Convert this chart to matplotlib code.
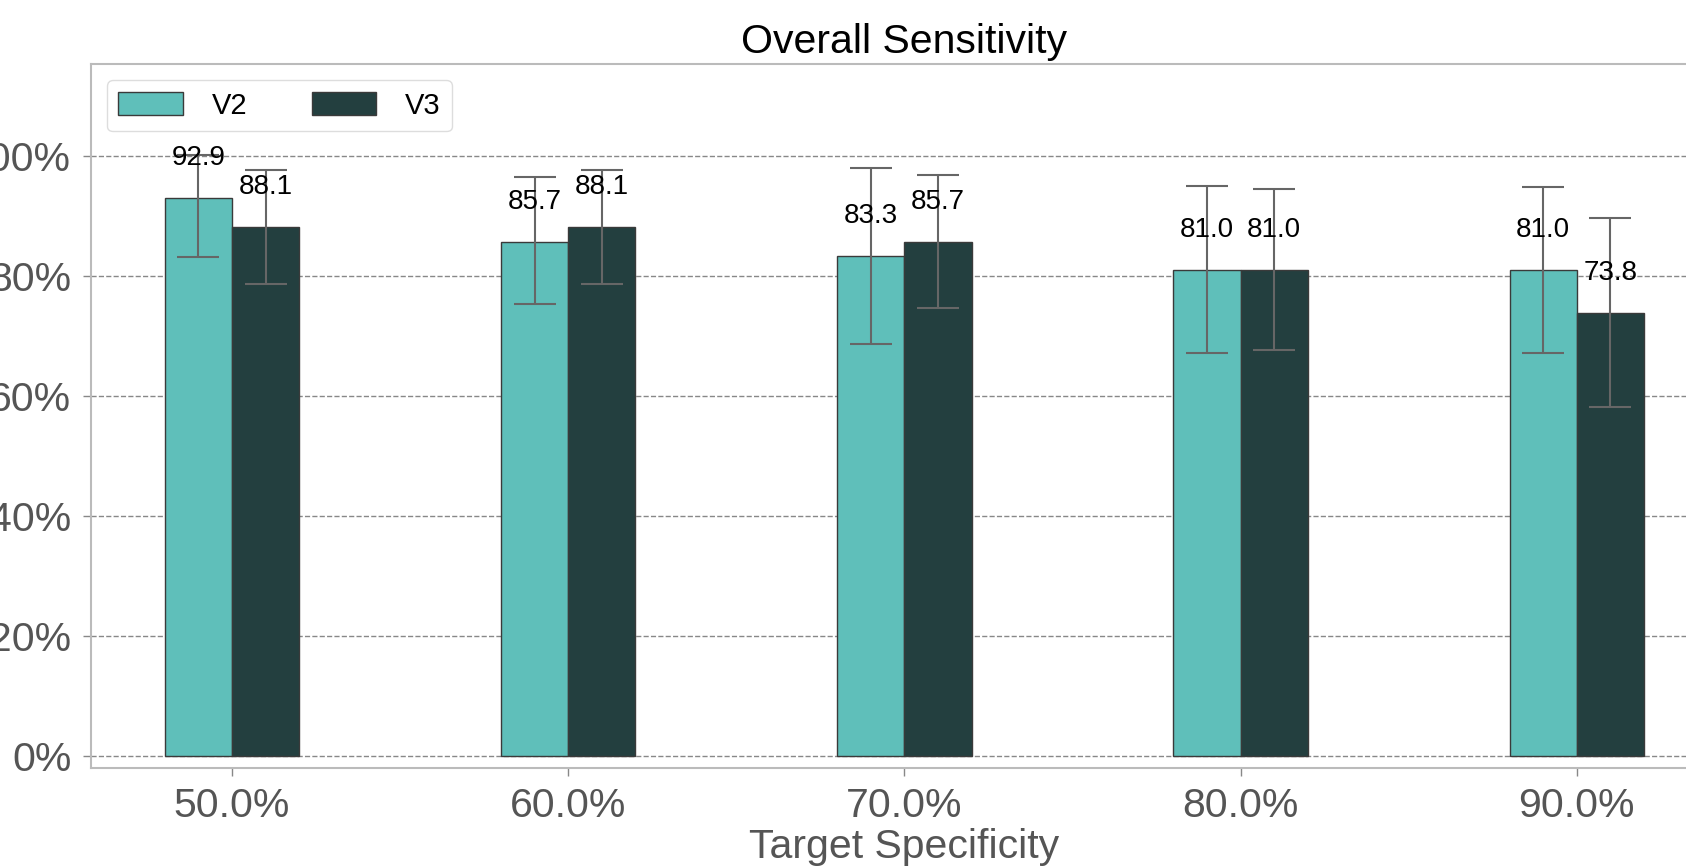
import numpy as np
import matplotlib
matplotlib.use("Agg")
from matplotlib import pyplot as plt

plt.rcParams['font.family'] = ['Liberation Sans', 'DejaVu Sans']

# data
specificity = ["50.0%", "60.0%", "70.0%", "80.0%", "90.0%"]
v2_sens = [92.9, 85.7, 83.3, 81.0, 81.0]
v3_sens = [88.1, 88.1, 85.7, 81.0, 73.8]
v2_low = [83.2, 75.3, 68.7, 67.1, 67.1]
v2_high = [100.2, 96.4, 97.9, 95.0, 94.8]
v3_low = [78.7, 78.7, 74.6, 67.6, 58.1]
v3_high = [97.7, 97.7, 96.8, 94.4, 89.6]

fig = plt.figure(figsize=(16.86, 8.67), dpi=100)
# the reference is a crop: axes run past the right edge of the picture
ax = fig.add_axes([0.0538, 0.1142, 0.9652, 0.812])

x = np.arange(len(specificity))
w = 0.2
gray = "#555555"


def draw(offset, vals, low, high, color, label):
    vals = np.array(vals)
    err = [vals - np.array(low), np.array(high) - vals]
    bars = ax.bar(x + offset, vals, w, color=color, edgecolor="#3a3a3a",
                  linewidth=1, label=label, zorder=2)
    ax.errorbar(x + offset, vals, yerr=err, fmt="none", ecolor="#666666",
                elinewidth=1.5, capsize=15, capthick=1.5, zorder=3)
    for b, v in zip(bars, vals):
        ax.text(b.get_x() + b.get_width() / 2, v + 4.5, f"{v:.1f}",
                ha="center", va="bottom", fontsize=20, color="black", zorder=4)


draw(-w / 2, v2_sens, v2_low, v2_high, "#5fbfba", "V2")
draw(w / 2, v3_sens, v3_low, v3_high, "#233f3f", "V3")

ax.set_xlim(-0.42, 4.42)
ax.set_ylim(-2, 115.3)
ax.set_xticks(x)
ax.set_xticklabels(specificity)
ax.set_yticks([0, 20, 40, 60, 80, 100])
ax.set_yticklabels([f"{t}%" for t in [0, 20, 40, 60, 80, 100]])
ax.tick_params(labelsize=29.5, colors=gray, length=6, width=1, pad=8)
ax.tick_params(axis="both", color="#888888")
ax.yaxis.grid(True, linestyle="--", color="#888888", linewidth=1, zorder=0)
ax.set_axisbelow(True)
for s in ax.spines.values():
    s.set_color("#bbbbbb")
    s.set_linewidth(1.5)

ax.set_title("Overall Sensitivity", fontsize=29.5, color="black", pad=8)
ax.set_xlabel("Target Specificity", fontsize=29.5, color=gray, labelpad=2)

leg = ax.legend(loc="upper left", ncol=2, fontsize=21, handlelength=2.2,
                handleheight=0.85, columnspacing=2.2, handletextpad=1.0,
                borderaxespad=0.55, fancybox=True, framealpha=1)
leg.get_frame().set_edgecolor("#dddddd")

fig.savefig("out.png", dpi=100)
